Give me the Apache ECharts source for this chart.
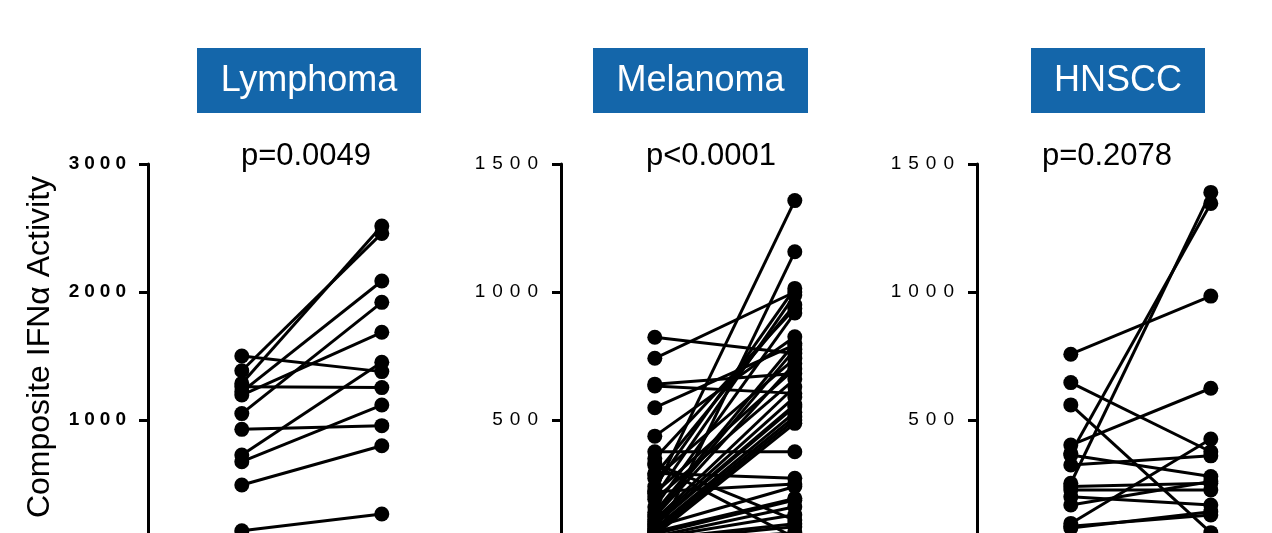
<!DOCTYPE html>
<html>
<head>
<meta charset="utf-8">
<script src="https://cdn.jsdelivr.net/npm/echarts@6/dist/echarts.min.js"></script>
<style>
  html, body { margin: 0; padding: 0; background: #fff; }
  #chart { width: 1272px; height: 533px; }
</style>
</head>
<body>
<div id="chart"></div>
<script>
// ---- Data ----
const panelTitles = ['Lymphoma', 'Melanoma', 'HNSCC'];
const pValues = ['p=0.0049', 'p<0.0001', 'p=0.2078'];
const yAxisTitle = 'Composite IFNα Activity';
const yMax = [3000, 1500, 1500];
const yStep = [1000, 500, 500];

const lymphomaBefore = [1500, 1385, 1286, 1260, 1220, 1195, 1050, 927, 727, 674, 492, 135];
const lymphomaAfter  = [1378, 2458, 2516, 1253, 2086, 1685, 1919, 956, 1451, 1117, 799, 266];

const melanomaBefore = [823, 741, 640, 633, 548, 437, 376, 350, 330, 324, 292, 285, 272, 240, 223, 220, 214, 200, 190, 160,
                        140, 129, 122, 110, 103, 95, 90, 83, 77, 70, 64, 60, 55, 50, 45, 40, 35, 30, 25, 20];
const melanomaAfter  = [760, 1000, 682, 604, 793, 825, 376, 936, 109, 40, 272, 950, 740, 1014, 1357, 250, 700, 988, 660, 918,
                        800, 775, 721, 630, 590, 560, 552, 240, 530, 513, 194, 500, 187, 487, 161, 130, 95, 83, 1157, 60];

const hnsccBefore = [757, 646, 559, 402, 370, 363, 324, 253, 240, 227, 200, 168, 96, 85, 78];
const hnsccAfter  = [984, 376, 60, 624, 1346, 279, 360, 1389, 253, 227, 168, 260, 426, 129, 142];

const panels = [
  [lymphomaBefore, lymphomaAfter],
  [melanomaBefore, melanomaAfter],
  [hnsccBefore, hnsccAfter]
];

// ---- Tick label letter spacing (canvas rendering detail) ----
(function () {
  const proto = CanvasRenderingContext2D.prototype;
  const orig = proto.fillText;
  proto.fillText = function (t, x, y, w) {
    if (this.font && this.font.indexOf('ticklabel') >= 0 && 'letterSpacing' in this) {
      const prev = this.letterSpacing;
      this.letterSpacing = this.font.indexOf('bold') >= 0 ? '5px' : '7px';
      const r = (w === undefined) ? orig.call(this, t, x, y) : orig.call(this, t, x, y, w);
      this.letterSpacing = prev;
      return r;
    }
    return (w === undefined) ? orig.call(this, t, x, y) : orig.call(this, t, x, y, w);
  };
})();

// ---- Layout ----
const gridLefts = [148, 561, 977];
const gridTop = 164, gridHeight = 384;
const xMin = 0.33, xMax = 2.67, pxPerUnit = 140;
const titleBoxes = [[197, 224], [593, 215], [1031, 174]];
const pCenters = [306, 711, 1107];
const BLUE = '#1466AA';

const grids = [], xAxes = [], yAxes = [], series = [], graphics = [];

panels.forEach(function (pair, i) {
  grids.push({ left: gridLefts[i], top: gridTop, width: (xMax - xMin) * pxPerUnit, height: gridHeight,
               containLabel: false, outerBoundsMode: 'none' });
  xAxes.push({ gridIndex: i, type: 'value', min: xMin, max: xMax, show: false });
  yAxes.push({
    gridIndex: i, type: 'value', min: 0, max: yMax[i], interval: yStep[i],
    axisLine: { show: true, lineStyle: { color: '#000', width: 3 } },
    axisTick: { show: true, length: 9, lineStyle: { color: '#000', width: 3 } },
    splitLine: { show: false },
    axisLabel: {
      showMinLabel: false,
      margin: i === 0 ? 17 : 16,
      color: '#000',
      fontFamily: '"Liberation Sans", ticklabel',
      fontWeight: i === 0 ? 'bold' : 'normal',
      fontSize: 19,
      padding: [16, 0, 0, 0],
      formatter: function (v) { return String(v); }
    }
  });
  const before = pair[0], after = pair[1];
  for (let k = 0; k < before.length; k++) {
    series.push({
      type: 'line', xAxisIndex: i, yAxisIndex: i,
      data: [[1, before[k]], [2, after[k]]],
      symbol: 'circle', symbolSize: 15,
      itemStyle: { color: '#000' },
      lineStyle: { color: '#000', width: 3 },
      silent: true, clip: false
    });
  }
  const b = titleBoxes[i];
  graphics.push({ type: 'rect', shape: { x: b[0], y: 48, width: b[1], height: 65 }, style: { fill: BLUE } });
  graphics.push({ type: 'text', x: b[0] + b[1] / 2, y: 81,
    style: { text: panelTitles[i], fill: '#fff', font: '36px "Liberation Sans", Arial, sans-serif', align: 'center', verticalAlign: 'middle' } });
  graphics.push({ type: 'text', x: pCenters[i], y: 156,
    style: { text: pValues[i], fill: '#000', font: '31px "Liberation Sans", Arial, sans-serif', align: 'center', verticalAlign: 'middle' } });
});

graphics.push({ type: 'text', x: 40, y: 347, rotation: Math.PI / 2,
  style: { text: yAxisTitle, fill: '#000', font: '32px "Liberation Sans", Arial, sans-serif', align: 'center', verticalAlign: 'middle' } });

const chart = echarts.init(document.getElementById('chart'), null, { renderer: 'canvas' });
chart.setOption({
  animation: false,
  backgroundColor: '#fff',
  grid: grids,
  xAxis: xAxes,
  yAxis: yAxes,
  series: series,
  graphic: graphics
});
</script>
</body>
</html>
